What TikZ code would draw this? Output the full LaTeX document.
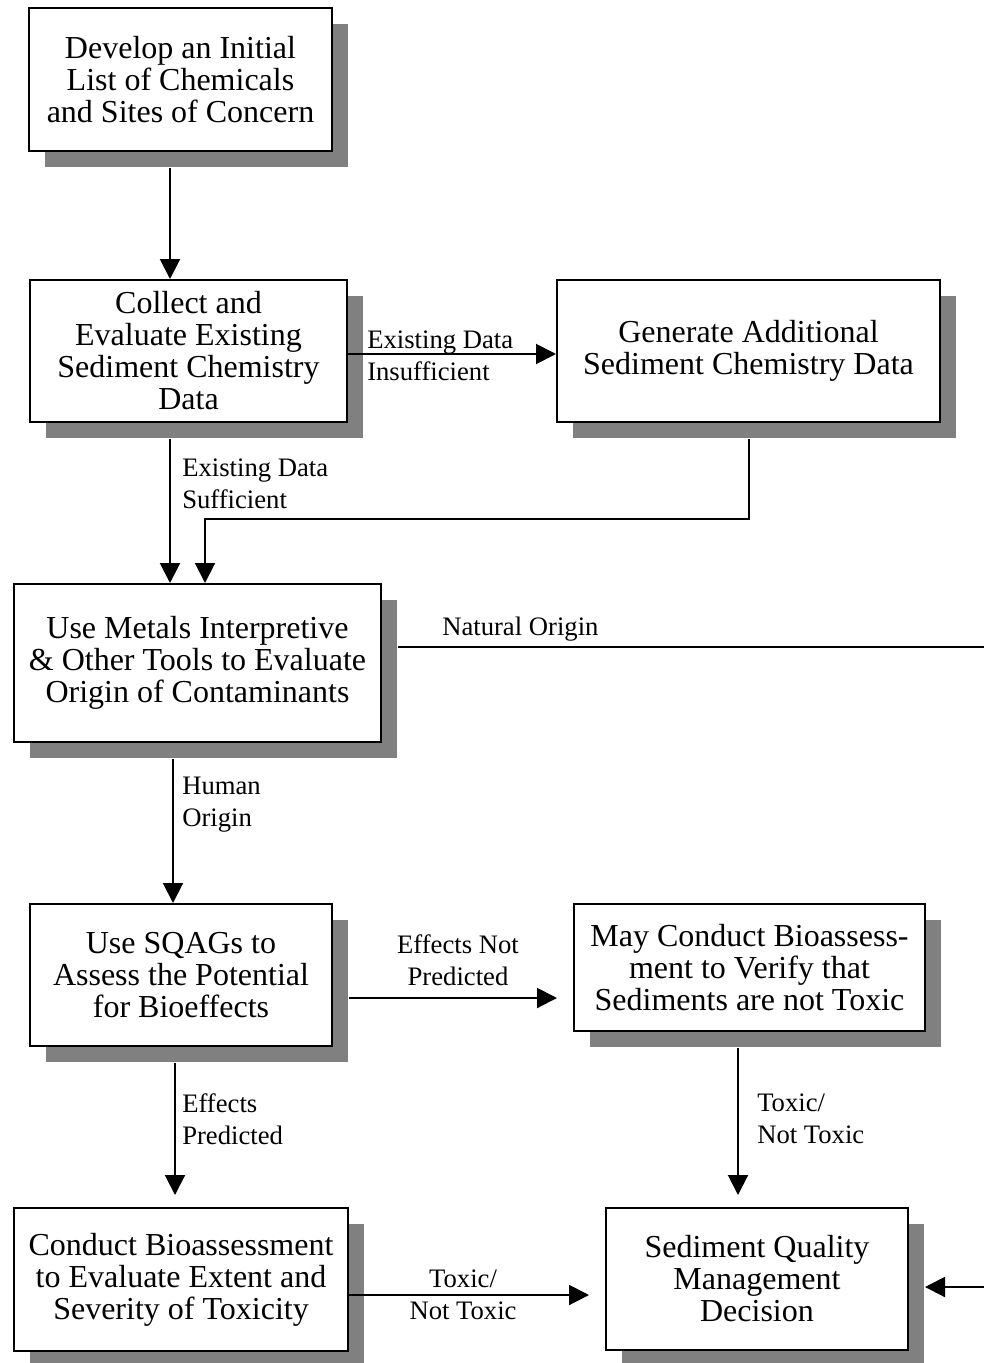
\documentclass[tikz,border=0pt]{standalone}
\usepackage{fontspec}
\setmainfont{Liberation Serif}
\usetikzlibrary{arrows.meta,shadows}
\definecolor{shadowgray}{RGB}{128,128,128}
\begin{document}
\begin{tikzpicture}[x=0.75pt,y=-0.75pt,
  box/.style={draw=black, line width=1.5pt, fill=white, align=center, inner sep=0pt,
    font=\fontsize{24}{24}\selectfont,
    drop shadow={shadow xshift=12pt, shadow yshift=-12pt, fill=shadowgray, opacity=1}},
  conn/.style={line width=1.5pt},
  arr/.style={conn, -{Triangle[width=15pt,length=15pt]}},
  lbl/.style={font=\fontsize{20}{24}\selectfont, inner sep=0pt},
]
\useasboundingbox (0,0) rectangle (984,1363);
\begin{scope}
\clip (0,0) rectangle (984,1363);

% boxes
\node[box, minimum width=227.25pt, minimum height=107.25pt] (b1) at (180.5,79.5)
  {Develop an Initial\\List of Chemicals\\and Sites of Concern};
\node[box, minimum width=237.75pt, minimum height=106.5pt] (b2) at (188.5,351)
  {Collect and\\Evaluate Existing\\Sediment Chemistry\\Data};
\node[box, minimum width=287.25pt, minimum height=106.5pt] (b3) at (748.5,351)
  {Generate Additional\\Sediment Chemistry Data};
\node[box, minimum width=275.25pt, minimum height=118.5pt] (b4) at (197.5,663)
  {Use Metals Interpretive\\\& Other Tools to Evaluate\\Origin of Contaminants};
\node[box, minimum width=226.5pt, minimum height=106.5pt] (b5) at (181,975)
  {Use SQAGs to\\Assess the Potential\\for Bioeffects};
\node[box, minimum width=263.25pt, minimum height=95.25pt] (b6) at (749.5,967.5)
  {May Conduct Bioassess-\\ment to Verify that\\Sediments are not Toxic};
\node[box, minimum width=250.5pt, minimum height=107.25pt] (b7) at (181,1279.5)
  {Conduct Bioassessment\\to Evaluate Extent and\\Severity of Toxicity};
\node[box, minimum width=226.5pt, minimum height=106.5pt] (b8) at (757,1279)
  {Sediment Quality\\Management\\Decision};

% shadow edges
\path ([yshift=-12pt]b1.south) coordinate (b1sh);
\path ([yshift=-12pt]b2.south) coordinate (b2sh);
\path ([yshift=-12pt]b3.south) coordinate (b3sh);
\path ([yshift=-12pt]b4.south) coordinate (b4sh);
\path ([yshift=-12pt]b5.south) coordinate (b5sh);
\path ([yshift=-12pt]b6.south) coordinate (b6sh);
\path ([xshift=12pt]b4.east) coordinate (b4sr);
\path ([xshift=12pt]b5.east) coordinate (b5sr);
\path ([xshift=12pt]b8.east) coordinate (b8sr);
\path ([yshift=9pt]b7.north) coordinate (b7gap);
\path ([yshift=9pt]b8.north) coordinate (b8gap);
\path ([xshift=-12pt]b6.west) coordinate (b6gap);

% routing coordinates
\coordinate (v1) at (170,0);
\coordinate (v2) at (205,519);
\coordinate (v3) at (173,0);
\coordinate (v4) at (175,0);
\coordinate (v5) at (738,0);
\coordinate (h1) at (0,354);
\coordinate (h2) at (0,647);
\coordinate (h3) at (0,998);
\coordinate (h4) at (0,1295);
\coordinate (h5) at (0,1287);
\coordinate (rt) at (995,0);

% connectors
\draw[arr] (b1sh -| v1) -- (b2.north -| v1);
\draw[arr] (b2sh -| v1) -- (b4.north -| v1);
\draw[arr] (b2.east |- h1) -- (b3.west |- h1);
\draw[arr] (b3sh) |- (v2) -- (b4.north -| v2);
\draw[arr] (b4sr |- h2) -- (rt |- h2) -- (rt |- h5) -- (b8sr |- h5);
\draw[arr] (b4sh -| v3) -- (b5.north -| v3);
\draw[arr] (b5sr |- h3) -- (b6gap |- h3);
\draw[arr] (b5sh -| v4) -- (b7gap -| v4);
\draw[arr] (b6sh -| v5) -- (b8gap -| v5);
\draw[arr] (b7.east |- h4) -- ([xshift=-12pt]b8.west |- h4);

% labels
\node[lbl, anchor=west, align=left] (l1) at (367,356) {Existing Data\\Insufficient};
\node[lbl, anchor=west, align=left] (l2) at (182,484) {Existing Data\\Sufficient};
\node[lbl, anchor=west] (l3) at (442,629) {Natural Origin};
\node[lbl, anchor=west, align=left] (l4) at (182,805) {Human\\Origin};
\node[lbl, align=center] (l5) at (458,960) {Effects Not\\Predicted};
\node[lbl, anchor=west, align=left] (l6) at (182,1119) {Effects\\Predicted};
\node[lbl, anchor=west, align=left] (l7) at (757,1119) {Toxic/\\Not Toxic};
\node[lbl, align=center] (l8) at (463,1295) {Toxic/\\Not Toxic};
\end{scope}
\end{tikzpicture}
\end{document}
